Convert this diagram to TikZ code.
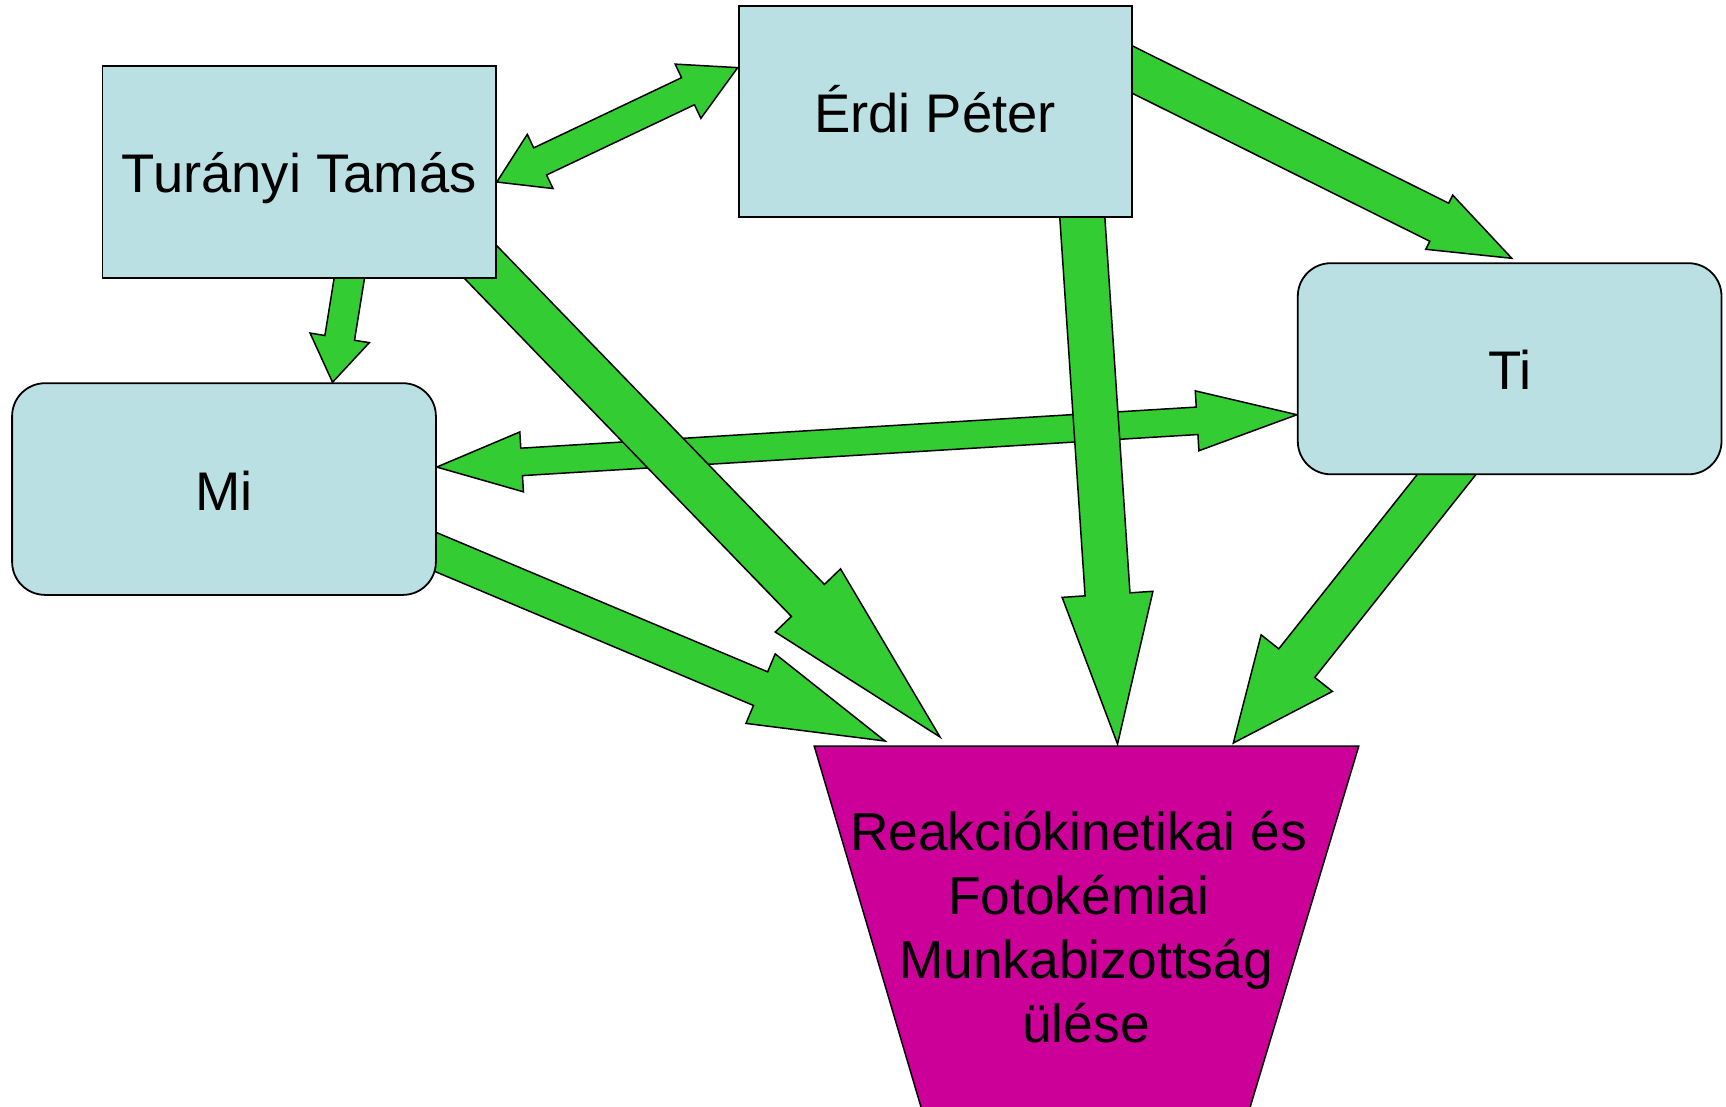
\documentclass[tikz,border=0pt]{standalone}
\usepackage{fontspec}
\setmainfont{Liberation Sans}
\usetikzlibrary{calc}
\definecolor{boxfill}{RGB}{187,224,227}
\definecolor{arrgreen}{RGB}{51,204,51}
\definecolor{wgfill}{RGB}{204,0,153}
\pgfdeclarelayer{bg}
\pgfsetlayers{bg,main}
% single block arrow: #1 from, #2 to (tip), #3 shaft width px, #4 head width px, #5 head length px, #6 back extension px
\newcommand\blkarrow[6]{%
  \pgfmathsetmacro\BAs{#3*0.25}%
  \pgfmathsetmacro\BAh{#4*0.25}%
  \pgfmathsetmacro\BAl{#5*0.5}%
  \pgfmathsetmacro\BAe{#6*0.5}%
  \coordinate (bT) at (#2);
  \coordinate (bS) at ($(#1)!-\BAe pt!(bT)$);
  \coordinate (bH) at ($(bT)!\BAl pt!(bS)$);
  \draw[blkstyle] ($(bS)!\BAs pt!90:(bT)$) -- ($(bH)!\BAs pt!90:(bT)$) -- ($(bH)!\BAh pt!90:(bT)$)
    -- (bT) -- ($(bH)!\BAh pt!-90:(bT)$) -- ($(bH)!\BAs pt!-90:(bT)$) -- ($(bS)!\BAs pt!-90:(bT)$) -- cycle;
}
% double block arrow: #1 tip A, #2 tip B, #3 shaft px, #4 head px, #5 head length at A, #6 head length at B
\newcommand\dblkarrow[6]{%
  \pgfmathsetmacro\BAs{#3*0.25}%
  \pgfmathsetmacro\BAh{#4*0.25}%
  \pgfmathsetmacro\BAla{#5*0.5}%
  \pgfmathsetmacro\BAlb{#6*0.5}%
  \coordinate (dA) at (#1);
  \coordinate (dB) at (#2);
  \coordinate (dHA) at ($(dA)!\BAla pt!(dB)$);
  \coordinate (dHB) at ($(dB)!\BAlb pt!(dA)$);
  \draw[blkstyle] (dA) -- ($(dHA)!\BAh pt!90:(dB)$) -- ($(dHA)!\BAs pt!90:(dB)$) -- ($(dHB)!\BAs pt!90:(dB)$)
    -- ($(dHB)!\BAh pt!90:(dB)$) -- (dB) -- ($(dHB)!\BAh pt!-90:(dB)$) -- ($(dHB)!\BAs pt!-90:(dB)$)
    -- ($(dHA)!\BAs pt!-90:(dB)$) -- ($(dHA)!\BAh pt!-90:(dB)$) -- cycle;
}
\begin{document}
\begin{tikzpicture}[x=0.5pt,y=-0.5pt,
  boxtext/.style={font=\fontsize{27.2pt}{32pt}\selectfont},
  wgtext/.style={font=\fontsize{26.7pt}{31.9pt}\selectfont},
  person/.style={draw=black,line width=0.9pt,fill=boxfill,inner sep=0pt,boxtext,text height=21pt,text depth=0pt},
  group/.style={person,rounded corners=16.5pt},
  blkstyle/.style={draw=black,line width=0.75pt,fill=arrgreen,line join=miter}]
\useasboundingbox (0,0) rectangle (1726,1107);

% boxes
\node[person,minimum width=196.75pt,minimum height=105.9pt] (tur) at (299.15,172) {Turányi Tamás};
\node[person,minimum width=196.5pt,minimum height=105.45pt] (erdi) at (935.1,111.55) {Érdi Péter};
\node[group,minimum width=211.9pt,minimum height=105.85pt] (mi) at (224,489.05) {Mi};
\node[group,minimum width=211.85pt,minimum height=105.55pt] (ti) at (1509.65,368.75) {Ti};

% trapezoid (working group meeting)
\coordinate (tTL) at (814.2,746);
\coordinate (tTR) at (1358.8,746);
\coordinate (tBL) at (936.7,1160);
\coordinate (tBR) at (1234.2,1160);
\begin{scope}
  \clip (0,0) rectangle (1726,1107);
  \draw[fill=wgfill,line width=0.75pt] (tTL) -- (tTR) -- (tBR) -- (tBL) -- cycle;
\end{scope}
\node[wgtext,align=center,anchor=base,inner sep=0pt] (wg) at (1086,1042.2)
  {Reakciókinetikai és\rule{.278em}{0pt}\\Fotokémiai\rule{.278em}{0pt}\\Munkabizottság\\ülése};

% connector end points
\coordinate (aMi) at ($(mi.north east)!0.397!(mi.south east)$);
\coordinate (aTi) at ($(ti.north west)!0.716!(ti.south west)$);
\coordinate (bTu) at ($(tur.north east)!0.547!(tur.south east)$);
\coordinate (bEr) at ($(erdi.north west)!0.2935!(erdi.south west)$);
\coordinate (cS) at ($(tur.south west)!0.6267!(tur.south east)$);
\coordinate (cE) at ($(mi.north west)!0.755!(mi.north east)$);
\coordinate (dS) at (tur.south east);
\coordinate (dE) at ($(tTL)!0.231!(tTR)+(0,-9)$);
\coordinate (eS) at ($(mi.north east)!0.797!(mi.south east)$);
\coordinate (eE) at ($(tTL)!0.13!(tTR)+(0,-5)$);
\coordinate (fS) at ($(erdi.south west)!0.873!(erdi.south east)$);
\coordinate (fE) at ($(tTL)!0.557!(tTR)+(0,-2)$);
\coordinate (gS) at ($(ti.south west)!0.3505!(ti.south east)$);
\coordinate (gE) at ($(tTL)!0.7696!(tTR)+(0,-3)$);
\coordinate (hS) at ($(erdi.north east)!0.303!(erdi.south east)$);
\coordinate (hE) at ($(ti.north west)!0.505!(ti.north east)+(0,-4)$);

\begin{pgfonlayer}{bg}
  \dblkarrow{aMi}{aTi}{27.5}{60}{85}{100}
  \dblkarrow{bTu}{bEr}{30}{60}{48}{55}
  \blkarrow{cS}{cE}{30}{60}{45}{40}
  \blkarrow{eS}{eE}{36.5}{75.4}{135}{40}
  \blkarrow{gS}{gE}{46}{91}{102}{40}
  \blkarrow{hS}{hE}{42.5}{60.5}{81}{40}
  \blkarrow{dS}{dE}{46}{90.8}{190}{40}
  \blkarrow{fS}{fE}{45}{91}{150}{40}
\end{pgfonlayer}
\end{tikzpicture}
\end{document}
